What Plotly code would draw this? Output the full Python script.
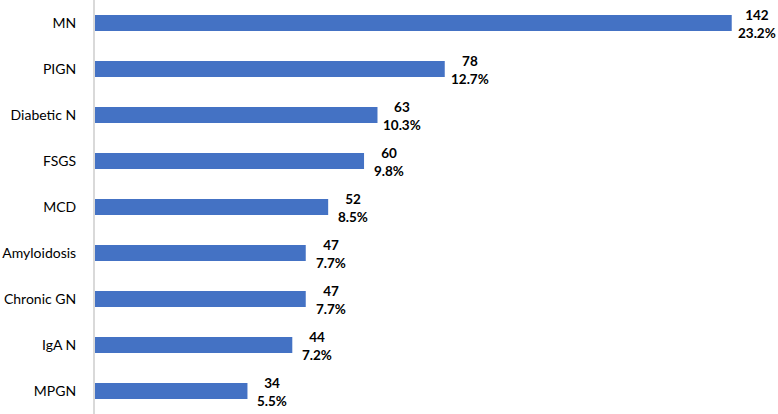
import plotly.graph_objects as go

categories = ["MN", "PIGN", "Diabetic N", "FSGS", "MCD", "Amyloidosis", "Chronic GN", "IgA N", "MPGN"]
counts = [142, 78, 63, 60, 52, 47, 47, 44, 34]
percents = ["23.2%", "12.7%", "10.3%", "9.8%", "8.5%", "7.7%", "7.7%", "7.2%", "5.5%"]

fig = go.Figure()
fig.add_trace(go.Bar(
    x=counts, y=categories, orientation="h",
    marker=dict(color="#4472C4", line=dict(width=0)),
    hoverinfo="skip",
))

for c, v, p in zip(categories, counts, percents):
    fig.add_annotation(
        x=v, y=c, xref="x", yref="y",
        text=f"<b>{v}</b><br><b>{p}</b>",
        showarrow=False, xanchor="center", yanchor="middle",
        xshift=25, yshift=-1, align="center",
        font=dict(family="Lato", size=13.5, color="#000000"),
    )

fig.update_layout(
    width=778, height=414,
    margin=dict(l=95, r=0, t=0, b=0, autoexpand=False),
    paper_bgcolor="white", plot_bgcolor="white",
    bargap=0.65,
    showlegend=False,
    font=dict(family="Lato", size=14, color="#000000"),
)
fig.update_xaxes(range=[0, 683 / 4.484], visible=False, showgrid=False,
                 zeroline=False, automargin=False)
fig.update_yaxes(
    autorange="reversed", showgrid=False, zeroline=False, automargin=False,
    showline=True, linecolor="#d9d9d9", linewidth=2,
    ticks="", ticklabelstandoff=14,
    tickfont=dict(family="Lato", size=14, color="#000000"),
)

fig.write_html(
    "out.html",
    config={"displayModeBar": False, "staticPlot": True},
    post_script="document.body.style.margin='0';document.body.style.overflow='hidden';",
)
